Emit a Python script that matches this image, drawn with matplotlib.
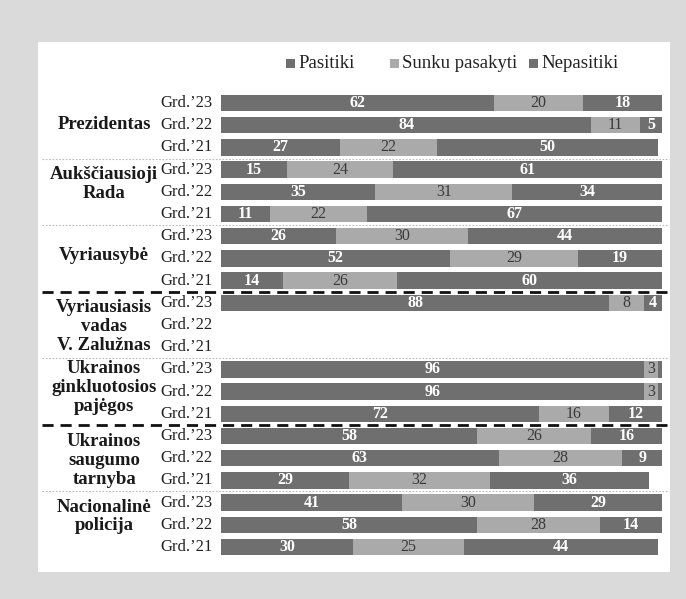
import matplotlib.pyplot as plt
import matplotlib.patches as mpatches
import numpy as np

groups = ["Prezidentas", "Aukščiausioji\nRada", "Vyriausybė",
          "Vyriausiasis\nvadas\nV. Zalužnas", "Ukrainos\nginkluotosios\npajėgos",
          "Ukrainos\nsaugumo\ntarnyba", "Nacionalinė\npolicija"]
years = ["Grd.’23", "Grd.’22", "Grd.’21"]
series = ["Pasitiki", "Sunku pasakyti", "Nepasitiki"]

# per group: rows for '23, '22, '21
pasitiki = [62, 84, 27, 15, 35, 11, 26, 52, 14, 88, np.nan, np.nan, 96, 96, 72, 58, 63, 29, 41, 58, 30]
sunku = [20, 11, 22, 24, 31, 22, 30, 29, 26, 8, np.nan, np.nan, 3, 3, 16, 26, 28, 32, 30, 28, 25]
nepasitiki = [18, 5, 50, 61, 34, 67, 44, 19, 60, 4, np.nan, np.nan, 1, 1, 12, 16, 9, 36, 29, 14, 44]

dark = "#6f6f6f"
light = "#aaaaaa"
colors = [dark, light, dark]
serif = "Liberation Serif"

fig = plt.figure(figsize=(6.86, 5.99), dpi=100)
fig.patch.set_facecolor("#dadada")
fig.add_artist(mpatches.Rectangle((38/686, 1-572/599), (670-38)/686, (572-42)/599,
                                  transform=fig.transFigure, facecolor="white",
                                  edgecolor="none", zorder=0))

ax = fig.add_axes([221/686, 1-558/599, 441/686, (558-92)/599])
ax.set_facecolor("none")

n = len(pasitiki)
y = np.arange(n)
left = np.zeros(n)
for vals, col, name in zip([pasitiki, sunku, nepasitiki], colors, series):
    v = np.array(vals, dtype=float)
    ax.barh(y, np.nan_to_num(v), left=left, height=0.74, color=col, label=name)
    for i in range(n):
        if np.isnan(v[i]) or v[i] < 2:
            continue
        cx = left[i] + v[i] / 2
        if col == dark:
            ax.text(cx, y[i], f"{int(v[i])}", ha="center", va="center", color="white",
                    fontsize=11.5, fontweight="bold", family=serif)
        else:
            ax.text(cx, y[i], f"{int(v[i])}", ha="center", va="center", color="#3a3a3a",
                    fontsize=11.5, family=serif)
    left = left + np.nan_to_num(v)

ax.set_xlim(0, 100)
ax.set_ylim(n - 0.5, -0.5)
ax.axis("off")

# year labels
for i in range(n):
    ax.text(-2, y[i], years[i % 3], ha="right", va="center", fontsize=12,
            family=serif, color="#222222")

# group labels
shift = [-0.05, -0.35, -0.15, 0.07, -0.2, 0.1, -0.37]
for g, name in enumerate(groups):
    ax.text(-26.5, 3 * g + 1 + shift[g], name, ha="center", va="center", fontsize=13.5,
            fontweight="bold", family=serif, color="#1a1a1a", linespacing=1.15)

# separators
for g in range(1, len(groups)):
    yy = 3 * g - 0.5
    if g in (3, 5):
        ax.plot([-40.5, 101.5], [yy, yy], color="#111111", lw=2, ls=(0, (4, 2.5)),
                clip_on=False)
    else:
        ax.plot([-40.5, 101.5], [yy, yy], color="#bbbbbb", lw=0.8, ls=(0, (1.5, 1.5)),
                clip_on=False)

# legend, placed by hand
leg_x = [286, 390, 529]
leg_y = 1 - 64/599
for x0, col, name in zip(leg_x, colors, series):
    fig.add_artist(mpatches.Rectangle((x0/686, leg_y - 4/599), 9/686, 9/599,
                                      transform=fig.transFigure, facecolor=col,
                                      edgecolor="none"))
    fig.text((x0 + 12)/686, leg_y, name, ha="left", va="center", fontsize=13.5,
             family=serif, color="#222222")

fig.savefig("out.png", dpi=100, facecolor=fig.get_facecolor())
